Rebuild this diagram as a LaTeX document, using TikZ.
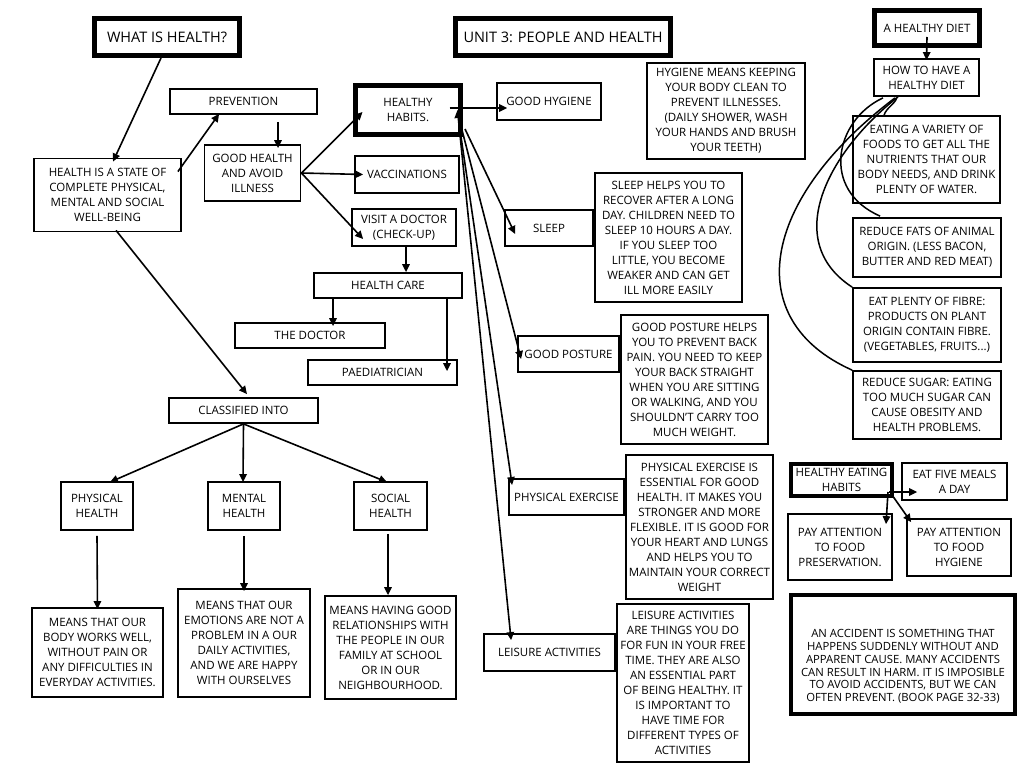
\documentclass[tikz,border=0pt]{standalone}
\usepackage{fontspec}
\setmainfont{Open Sans}
\usetikzlibrary{arrows.meta,calc}
\newcommand{\boxfont}{\fontsize{11.5}{15}\selectfont}
\newcommand{\titlefont}{\fontsize{14.5}{18}\selectfont}
\newcommand{\notefont}{\fontsize{11.3}{12.8}\selectfont}

\begin{document}
\begin{tikzpicture}[x=1pt,y=-1pt,>={Triangle[length=8pt,width=7.5pt]},
    box/.style 2 args={draw,line width=1.8pt,align=center,inner sep=0pt,
      minimum width=#1pt,minimum height=#2pt,font=\boxfont},
    thickbox/.style 2 args={box={#1}{#2},line width=5pt},
    conn/.style={->,line width=1.6pt},
    curve/.style={line width=1.5pt}]
  \fill[white] (0,0) rectangle (1024,768);
  \useasboundingbox (0,0) rectangle (1024,768);

  % titles
  \node[thickbox={145}{37},font=\titlefont] (what) at (167,37) {WHAT IS HEALTH?};
  \node[thickbox={215}{37},font=\titlefont] (unit) at (563,37) {UNIT 3: PEOPLE AND HEALTH};

  % what is health
  \node[box={147}{73}] (state) at (107.5,195) {HEALTH IS A STATE OF\\COMPLETE PHYSICAL,\\MENTAL AND SOCIAL\\WELL-BEING};
  \node[box={147}{25}] (prevention) at (243.5,101.5) {PREVENTION};
  \node[box={96}{56}] (good) at (252.5,173) {GOOD HEALTH\\AND AVOID\\ILLNESS};
  \node[thickbox={105}{49}] (habits) at (408,110) {HEALTHY\\HABITS.};
  \node[box={104}{37}] (vacc) at (407,174.5) {VACCINATIONS};
  \node[box={104}{37}] (visit) at (404,227.5) {VISIT A DOCTOR\\(CHECK-UP)};
  \node[box={148}{25}] (care) at (388,285.5) {HEALTH CARE};
  \node[box={150}{25}] (doctor) at (310,335.5) {THE DOCTOR};
  \node[box={149}{25}] (paed) at (382.5,372.5) {PAEDIATRICIAN};
  \node[box={149}{25}] (classified) at (243.5,410.5) {CLASSIFIED INTO};
  \node[box={72}{48}] (physical) at (97,506) {PHYSICAL\\HEALTH};
  \node[box={72}{48}] (mental) at (244,506) {MENTAL\\HEALTH};
  \node[box={73}{48}] (social) at (390.5,506) {SOCIAL\\HEALTH};
  \node[box={131}{89}] (physinfo) at (97.5,652.5) {MEANS THAT OUR\\BODY WORKS WELL,\\WITHOUT PAIN OR\\ANY DIFFICULTIES IN\\EVERYDAY ACTIVITIES.};
  \node[box={132}{108}] (mentinfo) at (244,643) {MEANS THAT OUR\\EMOTIONS ARE NOT A\\PROBLEM IN A OUR\\DAILY ACTIVITIES,\\AND WE ARE HAPPY\\WITH OURSELVES};
  \node[box={131}{103}] (socinfo) at (390.5,647.5) {MEANS HAVING GOOD\\RELATIONSHIPS WITH\\THE PEOPLE IN OUR\\FAMILY AT SCHOOL\\OR IN OUR\\NEIGHBOURHOOD.};

  % healthy habits
  \node[box={104}{37}] (hygiene) at (549,101.5) {GOOD HYGIENE};
  \node[box={158}{96}] (hyginfo) at (726,111) {HYGIENE MEANS KEEPING\\YOUR BODY CLEAN TO\\PREVENT ILLNESSES.\\(DAILY SHOWER, WASH\\YOUR HANDS AND BRUSH\\YOUR TEETH)};
  \node[box={88}{36}] (sleep) at (549,228) {SLEEP};
  \node[box={147}{129}] (sleepinfo) at (668.5,237.5) {SLEEP HELPS YOU TO\\RECOVER AFTER A LONG\\DAY. CHILDREN NEED TO\\SLEEP 10 HOURS A DAY.\\IF YOU SLEEP TOO\\LITTLE, YOU BECOME\\WEAKER AND CAN GET\\ILL MORE EASILY};
  \node[box={101}{36}] (posture) at (568.5,354) {GOOD POSTURE};
  \node[box={147}{129}] (postinfo) at (694.5,379.5) {GOOD POSTURE HELPS\\YOU TO PREVENT BACK\\PAIN. YOU NEED TO KEEP\\YOUR BACK STRAIGHT\\WHEN YOU ARE SITTING\\OR WALKING, AND YOU\\SHOULDN’T CARRY TOO\\MUCH WEIGHT.};
  \node[box={115}{36}] (exercise) at (566.5,497) {PHYSICAL EXERCISE};
  \node[box={147}{144}] (exinfo) at (699.5,527) {PHYSICAL EXERCISE IS\\ESSENTIAL FOR GOOD\\HEALTH. IT MAKES YOU\\STRONGER AND MORE\\FLEXIBLE. IT IS GOOD FOR\\YOUR HEART AND LUNGS\\AND HELPS YOU TO\\MAINTAIN YOUR CORRECT\\WEIGHT};
  \node[box={131}{37}] (leisure) at (549.5,652.5) {LEISURE ACTIVITIES};
  \node[box={132}{158}] (leisinfo) at (683,683) {LEISURE ACTIVITIES\\ARE THINGS YOU DO\\FOR FUN IN YOUR FREE\\TIME. THEY ARE ALSO\\AN ESSENTIAL PART\\OF BEING HEALTHY. IT\\IS IMPORTANT TO\\HAVE TIME FOR\\DIFFERENT TYPES OF\\ACTIVITIES};

  % healthy diet
  \node[thickbox={105}{35}] (diet) at (927,28) {A HEALTHY DIET};
  \node[box={105}{37}] (how) at (926.5,77.5) {HOW TO HAVE A\\HEALTHY DIET};
  \node[box={147}{87}] (eat) at (926.5,159.5) {EATING A VARIETY OF\\FOODS TO GET ALL THE\\NUTRIENTS THAT OUR\\BODY NEEDS, AND DRINK\\PLENTY OF WATER.};
  \node[box={148}{59}] (fats) at (927,247.5) {REDUCE FATS OF ANIMAL\\ORIGIN. (LESS BACON,\\BUTTER AND RED MEAT)};
  \node[box={148}{74}] (fibre) at (927,325) {EAT PLENTY OF FIBRE:\\PRODUCTS ON PLANT\\ORIGIN CONTAIN FIBRE.\\(VEGETABLES, FRUITS...)};
  \node[box={148}{68}] (sugar) at (927,405) {REDUCE SUGAR: EATING\\TOO MUCH SUGAR CAN\\CAUSE OBESITY AND\\HEALTH PROBLEMS.};
  \node[thickbox={101}{32},line width=4pt] (eating) at (841.5,480) {HEALTHY EATING\\HABITS};
  \node[box={105}{37}] (five) at (954.5,481.5) {EAT FIVE MEALS\\A DAY};
  \node[box={104}{66}] (preserv) at (840,547) {PAY ATTENTION\\TO FOOD\\PRESERVATION.};
  \node[box={104}{57}] (foodhyg) at (959,547.5) {PAY ATTENTION\\TO FOOD\\HYGIENE};
  \node[thickbox={224}{119},line width=3.5pt,font=\notefont] (accident) at (903,654.5) {\rule{0pt}{32pt}AN ACCIDENT IS SOMETHING THAT\\HAPPENS SUDDENLY WITHOUT AND\\APPARENT CAUSE. MANY ACCIDENTS\\CAN RESULT IN HARM. IT IS IMPOSIBLE\\TO AVOID ACCIDENTS, BUT WE CAN\\OFTEN PREVENT. (BOOK PAGE 32-33)};

  % connectors, left part
  \draw[conn] ($(what.south)+(-6,0)$) -- ($(state.north)+(5.5,4)$);
  \draw[conn] ($(state.north east)+(-4,14)$) -- ($(prevention.south west)+(50,-1)$);
  \draw[conn] ($(prevention.south)+(34.5,7)$) -- ($(good.north)+(25.5,4)$);
  \draw[conn] (good.east) -- ($(habits.west)+(9.5,2)$);
  \draw[conn] (good.east) -- ($(vacc.west)+(9,0)$);
  \draw[conn] (good.east) -- ($(visit.west)+(12,11.5)$);
  \draw[conn] ($(visit.south)+(2,0)$) -- ($(care.north)+(18,0)$);
  \draw[conn] ($(care.south)+(-55,0)$) -- ($(doctor.north)+(23,4)$);
  \draw[conn] ($(care.south)+(59,0)$) -- ($(paed.north)+(64.5,12)$);
  \draw[conn] ($(state.south)+(8.5,-2)$) -- ($(classified.north)+(3.5,-3)$);
  \draw[conn] (classified.south) -- ($(physical.north)+(13,1)$);
  \draw[conn] (classified.south) -- ($(mental.north)+(-1,1)$);
  \draw[conn] (classified.south) -- ($(social.north)+(-3.5,1)$);
  \draw[conn] ($(physical.south)+(0,5)$) -- ($(physinfo.north)+(0,2)$);
  \draw[conn] ($(mental.south)+(0,5)$) -- ($(mentinfo.north)+(0,3)$);
  \draw[conn] ($(social.south)+(-2.5,3)$) -- ($(socinfo.north)+(-2.5,0)$);

  % connectors from healthy habits
  \draw[conn] ($(habits.east)+(-13.5,-2)$) -- ($(hygiene.west)+(11,6.5)$);
  \draw[conn] ($(habits.south east)+(2,-8)$) -- ($(sleep.west)+(11,6)$);
  \draw[conn] ($(habits.south east)+(-1,-7)$) -- ($(posture.west)+(4,5)$);
  \draw[conn] ($(habits.south east)+(-3,-7)$) -- ($(exercise.west)+(4,-12)$);
  \draw[conn,<->] ($(habits.east)+(-5.5,0)$) -- ($(leisure.north west)+(28,7)$);

  % connectors, diet
  \draw[conn] ($(diet.center)+(0,9)$) -- ($(how.north)+(0,2)$);
  \draw[curve] ($(how.south)+(-30,1)$) .. controls (896,103) and (886,108) .. ($(eat.north west)+(32,0)$);
  \draw[curve] ($(how.south)+(-43.5,1)$) .. controls (835,120) and (820,190) .. ($(fats.north west)+(28,-1)$);
  \draw[curve] ($(how.south)+(-28.5,0)$) .. controls (830,150) and (780,240) .. ($(fibre.north west)+(0,0)$);
  \draw[curve] ($(how.south)+(-31.5,1)$) .. controls (760,200) and (740,320) .. ($(sugar.north west)+(0,0)$);
  \draw[conn] ($(eating.east)+(-5,12)$) -- ($(five.west)+(16,10.5)$);
  \draw[conn] ($(eating.east)+(-6,12)$) -- ($(preserv.north)+(46,11)$);
  \draw[conn] ($(eating.east)+(-2,15)$) -- ($(foodhyg.north west)+(5,4)$);
\end{tikzpicture}
\end{document}
